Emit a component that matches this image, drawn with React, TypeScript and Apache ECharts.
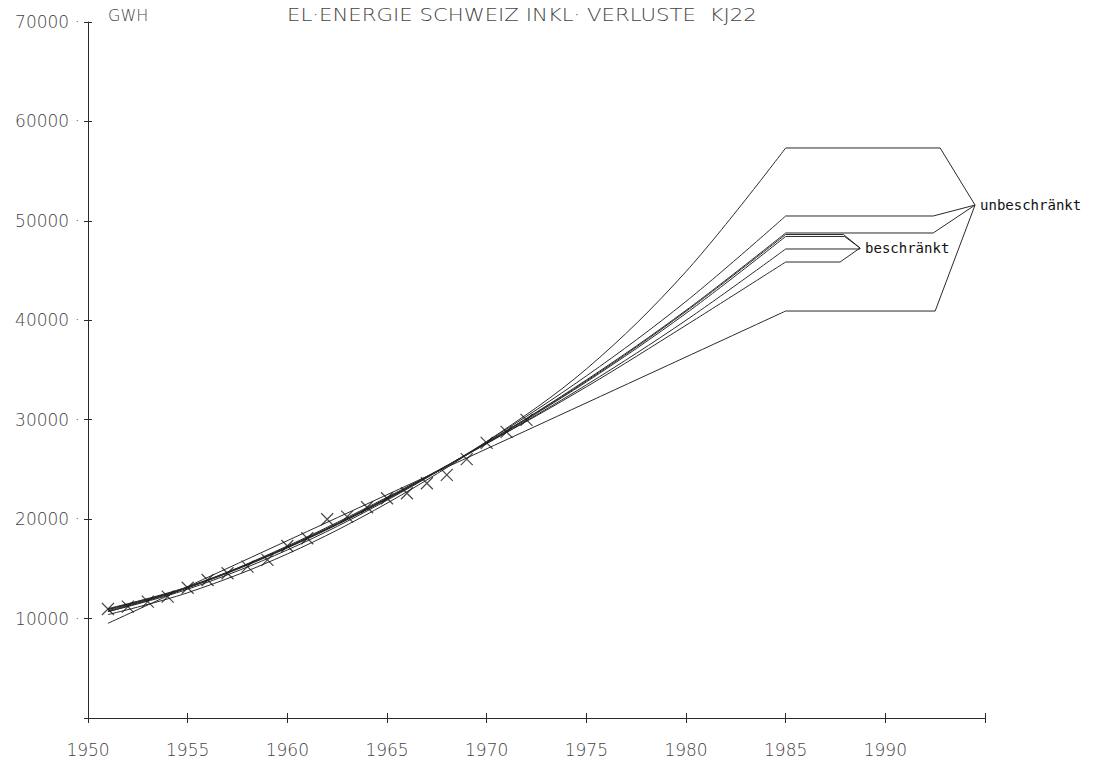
import React, { useEffect, useRef } from "react";
import * as echarts from "echarts";

// ---- data ----
const obsYears = [1951, 1952, 1953, 1954, 1955, 1956, 1957, 1958, 1959, 1960, 1961, 1962, 1963, 1964, 1965, 1966, 1967, 1968, 1969, 1970, 1971, 1972];
const obsValues = [10960, 11200, 11700, 12200, 13100, 13880, 14560, 15220, 15900, 17300, 18080, 19990, 20250, 21200, 22100, 22600, 23610, 24450, 26030, 27670, 28770, 29980];

const curveYears = [1951, 1955, 1960, 1965, 1970, 1975, 1980, 1985];
// "unbeschränkt" forecasts
const unb1 = [10400, 12600, 16500, 21600, 27800, 35100, 44900, 57330];
const unb2 = [10700, 12950, 16900, 21900, 27800, 34400, 41900, 50490];
const unb3 = [10900, 13100, 17100, 22000, 27700, 34000, 41000, 48780];
// linear trend
const unbLinYears = [1951, 1985];
const unbLin = [9520, 40930];
// "beschränkt" forecasts
const bes1 = [10950, 13150, 17150, 22050, 27700, 33900, 40900, 48630];
const bes2 = [11000, 13200, 17200, 22100, 27650, 33800, 40700, 48430];
const bes3 = [10800, 13100, 17200, 22100, 27600, 33500, 40000, 47170];
const bes4 = [10700, 13100, 17300, 22200, 27600, 33300, 39500, 45860];

// label leader lines (year of bend, label anchor)
const unbEnds = [1992.75, 1992.4, 1992.4, 1992.5];
const unbLast = [57330, 50490, 48780, 40930];
const unbAnchor = [1994.5, 51590];
const besEnds = [1987.9, 1987.95, 1988.73, 1987.73];
const besLast = [48630, 48430, 47170, 45860];
const besAnchor = [1988.73, 47270];

const xTicks = [1950, 1955, 1960, 1965, 1970, 1975, 1980, 1985, 1990];

const TITLE = "EL·ENERGIE SCHWEIZ INKL· VERLUSTE  KJ22";
const UNIT = "GWH";

const pair = (xs: number[], ys: number[]) => xs.map((x, i) => [x, ys[i]]);

export default function App() {
  const ref = useRef<HTMLDivElement>(null);
  useEffect(() => {
    document.body.style.margin = "0";
    const chart = echarts.init(ref.current!, null, { renderer: "svg" });
    const ink = "#2a2a2a";
    const axisInk = "#444";
    const plotFont = "DejaVu Sans";
    const lineStyle = { color: ink, width: 1 };
    const curve = (ys: number[], xs = curveYears) => ({
      type: "line",
      data: pair(xs, ys),
      smooth: 0.35,
      symbol: "none",
      lineStyle,
      z: 3,
    });
    const leader = (i: number, ends: number[], last: number[], anchor: number[], label?: string) => ({
      type: "line",
      data: [[1985, last[i]], [ends[i], last[i]], anchor],
      symbol: "none",
      lineStyle,
      endLabel: label
        ? {
            show: true,
            formatter: label,
            distance: 5,
            color: "#111",
            fontFamily: "DejaVu Sans Mono",
            fontSize: 14,
          }
        : { show: false },
      z: 3,
    });
    const gridBox = { left: 88, top: 22, width: 897, height: 696 };
    const labelFont = { fontFamily: plotFont, fontWeight: 200, fontSize: 17, color: axisInk };

    const option: any = {
      animation: false,
      backgroundColor: "#fff",
      graphic: [
        {
          type: "text",
          x: 287,
          y: 15,
          scaleX: 1.25,
          style: {
            text: TITLE,
            font: `200 17px "${plotFont}"`,
            fill: axisInk,
            verticalAlign: "middle",
          },
        },
        {
          type: "text",
          x: 108,
          y: 15,
          scaleX: 1.0,
          style: {
            text: UNIT,
            font: `200 16px "${plotFont}"`,
            fill: axisInk,
            verticalAlign: "middle",
          },
        },
      ],
      grid: [gridBox, { ...gridBox }],
      xAxis: [
        {
          type: "value",
          gridIndex: 0,
          min: 1950,
          max: 1995,
          interval: 5,
          axisLine: { show: true, lineStyle: { color: ink, width: 1 } },
          axisTick: { show: false },
          splitLine: { show: false },
          axisLabel: {
            margin: 23,
            ...labelFont,
            formatter: (v: number) => (xTicks.includes(v) ? String(v) : ""),
          },
        },
        {
          type: "value",
          gridIndex: 1,
          position: "bottom",
          offset: -5,
          min: 1950,
          max: 1995,
          interval: 5,
          axisLine: { show: false },
          axisTick: { show: true, length: 10, lineStyle: { color: ink } },
          splitLine: { show: false },
          axisLabel: { show: false },
        },
      ],
      yAxis: [
        {
          type: "value",
          gridIndex: 0,
          min: 0,
          max: 70000,
          interval: 10000,
          axisLine: { show: true, lineStyle: { color: ink, width: 1 } },
          axisTick: { show: false },
          splitLine: { show: false },
          axisLabel: {
            margin: 8,
            ...labelFont,
            formatter: (v: number) => (v === 0 ? "" : `${v} ·`),
          },
        },
        {
          type: "value",
          gridIndex: 1,
          position: "left",
          offset: -4,
          min: 0,
          max: 70000,
          interval: 10000,
          axisLine: { show: false },
          axisTick: { show: true, length: 8, lineStyle: { color: ink } },
          splitLine: { show: false },
          axisLabel: { show: false },
        },
      ],
      series: [
        curve(unb1),
        curve(unb2),
        curve(unb3),
        curve(unbLin, unbLinYears),
        curve(bes1),
        curve(bes2),
        curve(bes3),
        curve(bes4),
        leader(0, unbEnds, unbLast, unbAnchor, "unbeschränkt"),
        leader(1, unbEnds, unbLast, unbAnchor),
        leader(2, unbEnds, unbLast, unbAnchor),
        leader(3, unbEnds, unbLast, unbAnchor),
        leader(2, besEnds, besLast, besAnchor, "beschränkt"),
        leader(0, besEnds, besLast, besAnchor),
        leader(1, besEnds, besLast, besAnchor),
        leader(3, besEnds, besLast, besAnchor),
        {
          type: "scatter",
          data: pair(obsYears, obsValues),
          symbol: "path://M0 0L10 10M10 0L0 10",
          symbolSize: 12,
          itemStyle: { color: "transparent", borderColor: "#1a1a1a", borderWidth: 1.2 },
          z: 4,
        },
      ],
    };
    chart.setOption(option);
    return () => chart.dispose();
  }, []);
  return <div ref={ref} style={{ width: 1098, height: 764 }} />;
}
